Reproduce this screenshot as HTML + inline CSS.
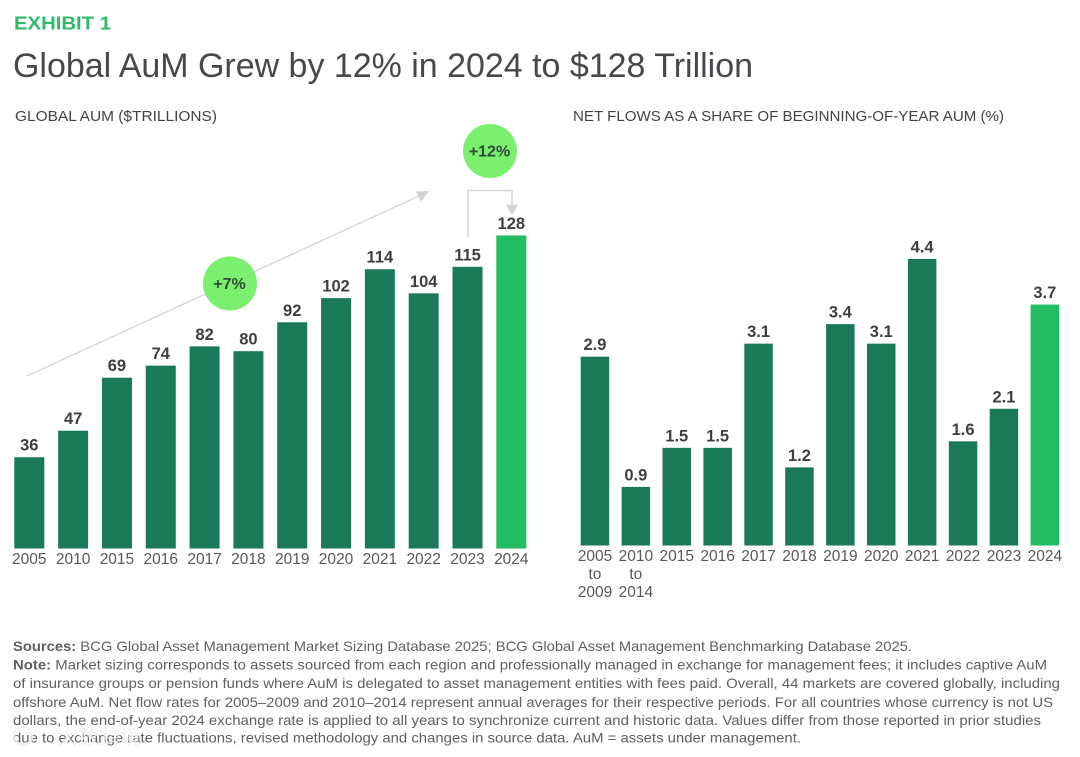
<!DOCTYPE html>
<html lang="en">
<head>
<meta charset="utf-8">
<title>Global AuM Grew by 12% in 2024 to $128 Trillion</title>
<style>
html,body{margin:0;padding:0;background:#fff;width:1080px;height:757px;overflow:hidden}
svg{display:block;font-family:"Liberation Sans",sans-serif;filter:blur(0.3px)}
</style>
</head>
<body>
<svg id="chart" xmlns="http://www.w3.org/2000/svg" width="1080" height="757" viewBox="0 0 1080 757">
  <text x="14" y="29.5" font-size="18.5" font-weight="700" fill="#2dbb6b" textLength="97" lengthAdjust="spacingAndGlyphs">EXHIBIT 1</text>
  <text x="13" y="77" font-size="34" fill="#48484c" textLength="740" lengthAdjust="spacingAndGlyphs">Global AuM Grew by 12% in 2024 to $128 Trillion</text>
  <text x="15" y="121" font-size="14.5" fill="#434347" textLength="202" lengthAdjust="spacingAndGlyphs">GLOBAL AUM ($TRILLIONS)</text>
  <text x="573" y="121" font-size="14.5" fill="#434347" textLength="431" lengthAdjust="spacingAndGlyphs">NET FLOWS AS A SHARE OF BEGINNING-OF-YEAR AUM (%)</text>

  <g id="left-bars"></g>
  <g id="right-bars"></g>

  <g>
    <line x1="27" y1="376" x2="420" y2="195.5" stroke="#d6d6d6" stroke-width="1.4"/>
    <polygon points="429,191 416,191.5 421,201.5" fill="#d2d2d2"/>
  </g>
  <circle cx="230" cy="283.5" r="27" fill="#7bf06f"/>
  <text x="229.5" y="289" font-size="16" font-weight="700" fill="#2f4a35" text-anchor="middle">+7%</text>

  <g>
    <path d="M468 237 V190.5 H512 V206" fill="none" stroke="#d6d6d6" stroke-width="1.5"/>
    <polygon points="505.5,205 518.5,205 512,215" fill="#d2d2d2"/>
  </g>
  <circle cx="490" cy="151" r="27" fill="#7bf06f"/>
  <text x="489.5" y="156.5" font-size="16" font-weight="700" fill="#2f4a35" text-anchor="middle">+12%</text>

  <g font-size="14" fill="#5f5f63">
    <text x="13" y="651" textLength="899" lengthAdjust="spacingAndGlyphs"><tspan font-weight="700">Sources:</tspan> BCG Global Asset Management Market Sizing Database 2025; BCG Global Asset Management Benchmarking Database 2025.</text>
    <text x="13" y="669.5" textLength="1034" lengthAdjust="spacingAndGlyphs"><tspan font-weight="700">Note:</tspan> Market sizing corresponds to assets sourced from each region and professionally managed in exchange for management fees; it includes captive AuM</text>
    <text x="13" y="688" textLength="1047" lengthAdjust="spacingAndGlyphs">of insurance groups or pension funds where AuM is delegated to asset management entities with fees paid. Overall, 44 markets are covered globally, including</text>
    <text x="13" y="707" textLength="1040" lengthAdjust="spacingAndGlyphs">offshore AuM. Net flow rates for 2005–2009 and 2010–2014 represent annual averages for their respective periods. For all countries whose currency is not US</text>
    <text x="13" y="725" textLength="1028" lengthAdjust="spacingAndGlyphs">dollars, the end-of-year 2024 exchange rate is applied to all years to synchronize current and historic data. Values differ from those reported in prior studies</text>
    <text x="13" y="742.5" textLength="788" lengthAdjust="spacingAndGlyphs">due to exchange rate fluctuations, revised methodology and changes in source data. AuM = assets under management.</text>
  </g>

  <g opacity="0.85">
    <circle cx="23" cy="736" r="9" fill="none" stroke="#f2f2f2" stroke-width="3"/>
    <text x="57" y="745" font-size="21" fill="#f0f0f0" font-family="'Liberation Sans','Noto Sans CJK SC',sans-serif" textLength="84">大数跨境</text>
  </g>
</svg>
<script>
var aumYears = ["2005","2010","2015","2016","2017","2018","2019","2020","2021","2022","2023","2024"];
var aumValues = [36,47,69,74,82,80,92,102,114,104,115,128];
var flowYears = [["2005","to","2009"],["2010","to","2014"],["2015"],["2016"],["2017"],["2018"],["2019"],["2020"],["2021"],["2022"],["2023"],["2024"]];
var flowValues = [2.9,0.9,1.5,1.5,3.1,1.2,3.4,3.1,4.4,1.6,2.1,3.7];
var flowLabels = ["2.9","0.9","1.5","1.5","3.1","1.2","3.4","3.1","4.4","1.6","2.1","3.7"];

var NS = 'http://www.w3.org/2000/svg';
var DARK = '#1a7a57';
var BRIGHT = '#22bd62';

function make(tag, attrs, parent) {
  var el = document.createElementNS(NS, tag);
  for (var k in attrs) el.setAttribute(k, attrs[k]);
  parent.appendChild(el);
  return el;
}

function linear(d0, d1, r0, r1) {
  return function (v) { return r0 + (v - d0) * (r1 - r0) / (d1 - d0); };
}

function drawPanel(group, cats, vals, labels, xFirst, step, barW, yScale, base, catY, catStep, catSize) {
  var xScale = linear(0, 1, xFirst, xFirst + step);
  vals.forEach(function (v, i) {
    var x = xScale(i);
    var top = yScale(v);
    var last = i === vals.length - 1;

    var bar = make('rect', { x: x, y: top, width: barW, height: base - top, fill: last ? BRIGHT : DARK }, group);
    
    

    var lab = make('text', { x: x + barW / 2, y: top - 6.5, 'font-size': 16.5, 'font-weight': 700, fill: '#3f3f43', 'text-anchor': 'middle' }, group);
    lab.textContent = labels[i];
    
    

    var lines = Array.isArray(cats[i]) ? cats[i] : [cats[i]];
    lines.forEach(function (line, j) {
      var t = make('text', { x: x + barW / 2, y: catY + j * catStep, 'font-size': catSize, fill: '#58585c', 'text-anchor': 'middle' }, group);
      t.textContent = line;
      
      
    });
  });
}

var leftBase = 548.5;
var leftY = linear(-1.87, 128, leftBase, 235.5);
drawPanel(document.getElementById('left-bars'), aumYears, aumValues, aumValues.map(String), 14.3, 43.82, 30, leftY, leftBase, 564, 18, 15.5);

var rightBase = 545.5;
var rightY = linear(0, 4.4, rightBase, 259);
drawPanel(document.getElementById('right-bars'), flowYears, flowValues, flowLabels, 580.7, 40.9, 28.5, rightY, rightBase, 561, 18, 15.5);
</script>
</body>
</html>
